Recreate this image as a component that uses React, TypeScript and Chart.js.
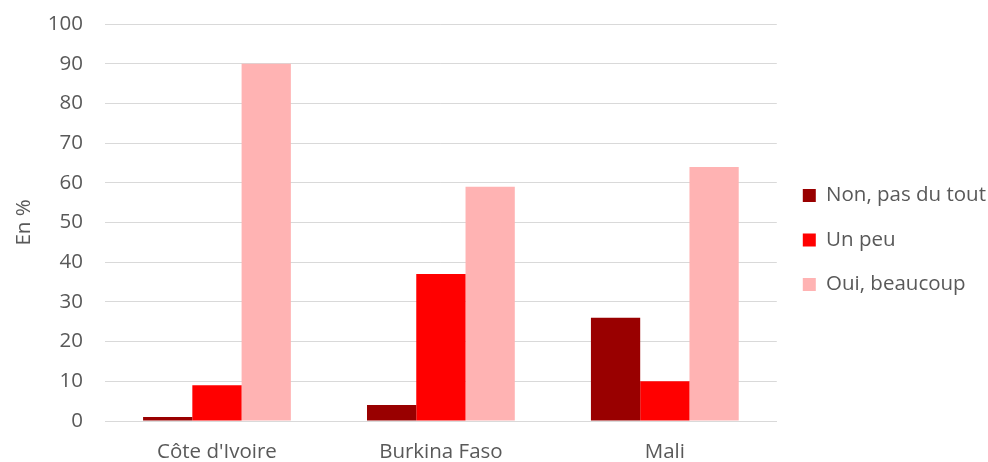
import React, { useEffect, useRef } from "react";
import { Chart, registerables } from "chart.js";

Chart.register(...registerables);

const categories = ["Côte d'Ivoire", "Burkina Faso", "Mali"];
const seriesNames = ["Non, pas du tout", "Un peu", "Oui, beaucoup"];
const nonValues = [1, 4, 26];
const unPeuValues = [9, 37, 10];
const ouiValues = [90, 59, 64];
const seriesColors = ["#990000", "#FF0000", "#FFB3B3"];
const yTicks = [0, 10, 20, 30, 40, 50, 60, 70, 80, 90, 100];

const FONT = "'Open Sans', sans-serif";
const TEXT = "#595959";
const FS = 20.5;

const legendGap = {
  id: "legendGap",
  beforeLayout(chart: any) {
    const lg = chart.legend;
    if (lg && !lg.__patched) {
      const origFit = lg.fit.bind(lg);
      lg.fit = function () {
        origFit();
        this.width += 6;
      };
      const origDraw = lg.draw.bind(lg);
      lg.draw = function () {
        const c = this.ctx;
        c.save();
        c.translate(2, 9);
        origDraw();
        c.restore();
      };
      lg.__patched = true;
    }
  },
};

export default function App() {
  const ref = useRef<HTMLCanvasElement | null>(null);
  useEffect(() => {
    document.body.style.margin = "0";
    const ctx = ref.current!;
    const chart = new Chart(ctx, {
      type: "bar",
      data: {
        labels: categories,
        datasets: [nonValues, unPeuValues, ouiValues].map((d, i) => ({
          label: seriesNames[i],
          data: d,
          backgroundColor: seriesColors[i],
          borderWidth: 0,
          categoryPercentage: 0.66,
          barPercentage: 1,
        })),
      },
      plugins: [legendGap],
      options: {
        animation: false,
        responsive: false,
        layout: { padding: { top: 0, right: -12, bottom: 0, left: 0 } },
        plugins: {
          tooltip: { enabled: false },
          legend: {
            position: "right",
            align: "center",
            labels: {
              boxWidth: 13,
              boxHeight: 13,
              padding: 24,
              color: TEXT,
              font: { family: FONT, size: FS },
            },
          },
        },
        scales: {
          x: {
            grid: { display: false },
            border: { color: "#d9d9d9" },
            ticks: { color: TEXT, font: { family: FONT, size: FS }, padding: 11, maxRotation: 0 },
            afterFit: (s: any) => {
              s.height = 41;
            },
          },
          y: {
            min: 0,
            max: 100,
            afterBuildTicks: (axis: any) => {
              axis.ticks = yTicks.map((v) => ({ value: v }));
            },
            grid: { color: "#d9d9d9", drawTicks: false },
            border: { display: false },
            ticks: { color: TEXT, font: { family: FONT, size: FS }, padding: 22 },
            title: {
              display: true,
              text: "En %",
              color: TEXT,
              font: { family: FONT, size: FS },
              padding: { top: 12, bottom: 0 },
            },
            afterFit: (s: any) => {
              s.width = 105;
              s.paddingTop = 24;
              s.paddingBottom = 0;
            },
          },
        },
      },
    });
    return () => chart.destroy();
  }, []);
  return (
    <div style={{ width: 988, height: 462, background: "#fff" }}>
      <canvas ref={ref} width={988} height={462} style={{ width: 988, height: 462 }} />
    </div>
  );
}
